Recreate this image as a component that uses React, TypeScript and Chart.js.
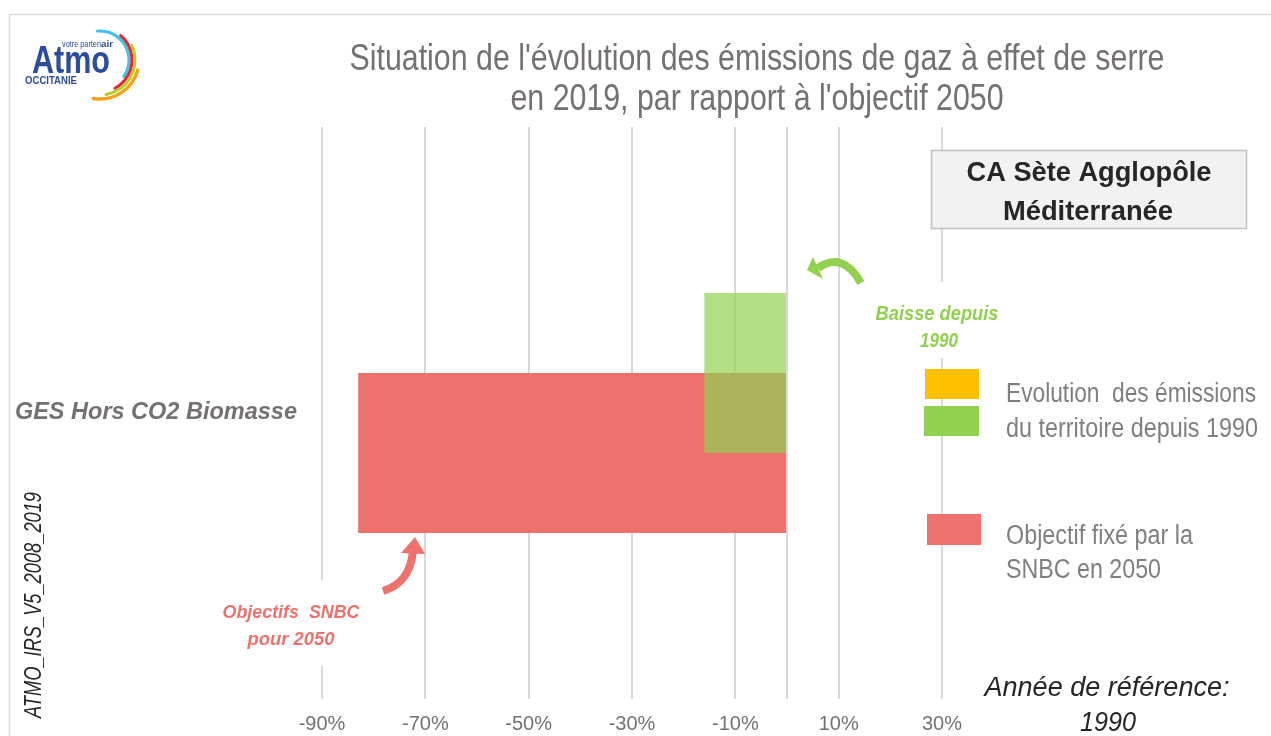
import { useEffect, useRef } from "react";
import { Chart, registerables } from "chart.js";

Chart.register(...registerables);

// ---- Data ----
const categories = ["GES Hors CO2 Biomasse"];
const evolutionValues = [-16]; // Baisse depuis 1990 (%)
const objectiveValues = [-83]; // Objectif SNBC 2050 (%)
const tickValues = [-90, -70, -50, -30, -10, 0, 10, 30];
const axisMin = -90;
const axisMax = 30;

const titleLines = [
  "Situation de l'évolution des émissions de gaz à effet de serre",
  "en 2019, par rapport à l'objectif 2050",
];
const territoryLines = ["CA Sète Agglopôle", "Méditerranée"];
const legendEvolutionLines = ["Evolution  des émissions", "du territoire depuis 1990"];
const legendObjectiveLines = ["Objectif fixé par la", "SNBC en 2050"];
const baisseLines = ["Baisse depuis", "1990"];
const snbcLines = ["Objectifs  SNBC", "pour 2050"];
const referenceLines = ["Année de référence:", "1990"];
const versionLabel = "ATMO_IRS_V5_2008_2019";

// ---- Styles ----
const NARROW = "'Liberation Sans Narrow', 'Arial Narrow', 'Liberation Sans', Arial, sans-serif";
const SANS = "'Liberation Sans', Arial, sans-serif";
const RED = "#ED716D";
const GREEN_SOLID = "#92D050";
const GREEN_ALPHA = "rgba(146,208,80,0.7)";
const ORANGE = "#FFC000";
const TEXT_BROWN = "#767171";
const TEXT_GRAY = "#7F7F7F";
const TEXT_DARK = "#262626";

function fitText(
  ctx: CanvasRenderingContext2D,
  text: string,
  x: number,
  y: number,
  width: number,
  font: string,
  color: string,
  align: CanvasTextAlign = "center"
) {
  ctx.save();
  ctx.font = font;
  ctx.fillStyle = color;
  ctx.textBaseline = "alphabetic";
  ctx.textAlign = align;
  const w = ctx.measureText(text).width || 1;
  ctx.translate(x, y);
  ctx.scale(width / w, 1);
  ctx.fillText(text, 0, 0);
  ctx.restore();
}

const overlayPlugin = {
  id: "overlay",
  beforeDraw(chart: any) {
    const ctx: CanvasRenderingContext2D = chart.ctx;
    ctx.save();
    ctx.fillStyle = "#FFFFFF";
    ctx.fillRect(0, 0, chart.width, chart.height);
    ctx.strokeStyle = "#D9D9D9";
    ctx.lineWidth = 1.5;
    ctx.beginPath();
    ctx.moveTo(9.5, chart.height);
    ctx.lineTo(9.5, 14.5);
    ctx.lineTo(chart.width, 14.5);
    ctx.stroke();
    ctx.restore();
  },
  afterDraw(chart: any) {
    const ctx: CanvasRenderingContext2D = chart.ctx;
    ctx.save();

    // Title
    fitText(ctx, titleLines[0], 757, 70, 815, `36px ${NARROW}`, TEXT_BROWN);
    fitText(ctx, titleLines[1], 757, 110, 493, `36px ${NARROW}`, TEXT_BROWN);

    // Logo
    ctx.lineCap = "round";
    const arcs = [
      { c: "#3BC4E8", r: 29, a0: -95, a1: 35, w: 3 },
      { c: "#E4243B", r: 32, a0: -50, a1: 62, w: 3 },
      { c: "#B5CF2A", r: 35, a0: -25, a1: 80, w: 3 },
      { c: "#F7A11A", r: 39, a0: 15, a1: 100, w: 3.5 },
    ];
    arcs.forEach((a) => {
      ctx.beginPath();
      ctx.strokeStyle = a.c;
      ctx.lineWidth = a.w;
      ctx.arc(100, 60, a.r, (a.a0 * Math.PI) / 180, (a.a1 * Math.PI) / 180);
      ctx.stroke();
    });
    fitText(ctx, "Atmo", 32, 73, 78, `bold 38px ${SANS}`, "#2E4C9E", "left");
    fitText(ctx, "votre parten", 62, 47, 39, `9px ${SANS}`, "#2E4C9E", "left");
    fitText(ctx, "air", 101, 47, 12, `bold 9px ${SANS}`, "#2E4C9E", "left");
    fitText(ctx, "OCCITANIE", 25, 84, 52, `bold 11px ${SANS}`, "#2E4C9E", "left");

    // Territory box
    ctx.fillStyle = "#F2F2F2";
    ctx.fillRect(931.5, 150.5, 315, 78);
    ctx.strokeStyle = "#BFBFBF";
    ctx.lineWidth = 1.5;
    ctx.strokeRect(931.5, 150.5, 315, 78);
    fitText(ctx, territoryLines[0], 1089, 181, 245, `bold 27px ${SANS}`, TEXT_DARK);
    fitText(ctx, territoryLines[1], 1088, 220, 170, `bold 27px ${SANS}`, TEXT_DARK);

    // "Baisse depuis 1990" annotation
    ctx.fillStyle = "#FFFFFF";
    ctx.fillRect(868, 282, 137, 76);
    fitText(ctx, baisseLines[0], 937, 320, 123, `italic bold 20px ${SANS}`, GREEN_SOLID);
    fitText(ctx, baisseLines[1], 939, 347, 38, `italic bold 20px ${SANS}`, GREEN_SOLID);
    // green curved arrow
    ctx.lineCap = "butt";
    ctx.strokeStyle = GREEN_SOLID;
    ctx.lineWidth = 8;
    ctx.beginPath();
    ctx.moveTo(861, 283);
    ctx.quadraticCurveTo(843, 251, 818, 268);
    ctx.stroke();
    ctx.fillStyle = GREEN_SOLID;
    ctx.beginPath();
    ctx.moveTo(807, 270);
    ctx.lineTo(813, 257);
    ctx.lineTo(823, 279);
    ctx.closePath();
    ctx.fill();

    // "Objectifs SNBC pour 2050" annotation
    ctx.fillStyle = "#FFFFFF";
    ctx.fillRect(214, 580, 152, 86);
    fitText(ctx, snbcLines[0], 291, 618, 137, `italic bold 19px ${SANS}`, RED);
    fitText(ctx, snbcLines[1], 291, 645, 87, `italic bold 19px ${SANS}`, RED);
    ctx.strokeStyle = RED;
    ctx.lineWidth = 8;
    ctx.beginPath();
    ctx.moveTo(383, 591);
    ctx.quadraticCurveTo(410, 583, 413, 551);
    ctx.stroke();
    ctx.fillStyle = RED;
    ctx.beginPath();
    ctx.moveTo(401, 553);
    ctx.lineTo(415, 537);
    ctx.lineTo(425, 554);
    ctx.closePath();
    ctx.fill();

    // Legend
    ctx.fillStyle = ORANGE;
    ctx.fillRect(925, 369, 54, 30);
    ctx.fillStyle = GREEN_SOLID;
    ctx.fillRect(924, 406, 55, 30);
    ctx.fillStyle = RED;
    ctx.fillRect(927, 514, 54, 31);
    fitText(ctx, legendEvolutionLines[0], 1006, 402, 250, `27px ${NARROW}`, TEXT_GRAY, "left");
    fitText(ctx, legendEvolutionLines[1], 1006, 437, 252, `27px ${NARROW}`, TEXT_GRAY, "left");
    fitText(ctx, legendObjectiveLines[0], 1006, 544, 187, `27px ${NARROW}`, TEXT_GRAY, "left");
    fitText(ctx, legendObjectiveLines[1], 1006, 578, 155, `27px ${NARROW}`, TEXT_GRAY, "left");

    // Reference year
    fitText(ctx, referenceLines[0], 1107, 696, 245, `italic 28px ${NARROW}`, TEXT_DARK);
    fitText(ctx, referenceLines[1], 1108, 731, 56, `italic 28px ${NARROW}`, TEXT_DARK);

    // Vertical version label
    ctx.save();
    ctx.translate(41, 605);
    ctx.rotate(-Math.PI / 2);
    fitText(ctx, versionLabel, 0, 0, 226, `italic 23px ${NARROW}`, TEXT_DARK);
    ctx.restore();

    ctx.restore();
  },
};

export default function App() {
  const canvasRef = useRef<HTMLCanvasElement | null>(null);

  useEffect(() => {
    document.body.style.margin = "0";
    const canvas = canvasRef.current;
    if (!canvas) return;
    const chart = new Chart(canvas, {
      type: "bar",
      data: {
        labels: categories,
        datasets: [
          {
            label: "Evolution des émissions du territoire depuis 1990",
            data: evolutionValues,
            backgroundColor: GREEN_ALPHA,
            borderWidth: 0,
            categoryPercentage: 160 / 572,
            barPercentage: 2,
          },
          {
            label: "Objectif fixé par la SNBC en 2050",
            data: objectiveValues,
            backgroundColor: RED,
            borderWidth: 0,
            categoryPercentage: 160 / 572,
            barPercentage: 2,
          },
        ],
      },
      options: {
        indexAxis: "y",
        animation: false,
        responsive: false,
        maintainAspectRatio: false,
        devicePixelRatio: 1,
        layout: { padding: { left: 0, right: 329, top: 127, bottom: 0 } },
        plugins: {
          legend: { display: false },
          tooltip: { enabled: false },
          title: { display: false },
        },
        scales: {
          x: {
            type: "linear",
            min: axisMin,
            max: axisMax,
            afterBuildTicks: (scale: any) => {
              scale.ticks = tickValues.map((v) => ({ value: v }));
            },
            afterFit: (scale: any) => {
              scale.height = 37;
            },
            grid: { color: "#D9D9D9", lineWidth: 2, drawTicks: false },
            border: { display: false },
            ticks: {
              autoSkip: false,
              maxRotation: 0,
              padding: 13,
              color: TEXT_BROWN,
              font: { family: NARROW, size: 20 },
              callback: (v: any) => (Number(v) === 0 ? "" : `${v}%`),
            },
          },
          y: {
            type: "category",
            afterFit: (scale: any) => {
              scale.width = 322;
            },
            grid: { display: false },
            border: { display: false },
            ticks: {
              padding: 17,
              color: TEXT_BROWN,
              font: { family: SANS, size: 23.5, style: "italic", weight: "bold" },
            },
          },
        },
      } as any,
      plugins: [overlayPlugin],
    });
    return () => chart.destroy();
  }, []);

  return (
    <div style={{ width: 1271, height: 736, position: "relative" }}>
      <canvas ref={canvasRef} width={1271} height={736} style={{ display: "block" }} />
    </div>
  );
}
